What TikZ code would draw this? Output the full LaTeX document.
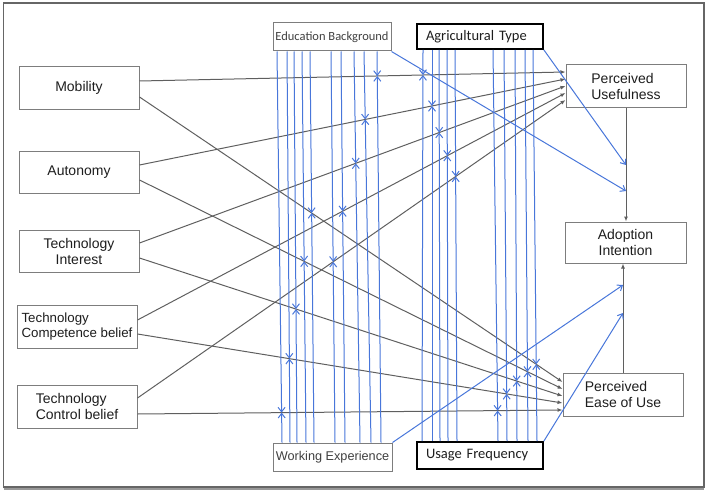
\documentclass[tikz,border=0pt]{standalone}
\usepackage{fontspec}
\setmainfont{Liberation Sans}
\newfontfamily\calib{Carlito}
\usetikzlibrary{arrows.meta,intersections}
\definecolor{mblue}{RGB}{72,118,218}
\definecolor{cgray}{RGB}{95,95,95}
\definecolor{bgray}{RGB}{125,125,125}
\definecolor{tcol}{RGB}{30,30,30}
\begin{document}
\begin{tikzpicture}[x=1pt,y=-1pt,
  box/.style={draw=bgray,line width=1pt,fill=white,minimum width=120pt,minimum height=42pt,
    inner sep=2pt,align=center,text=tcol,font=\fontsize{14}{16}\selectfont},
  mbox/.style={draw=bgray,line width=1pt,fill=white,inner sep=1pt,text=tcol!85!white},
  kbox/.style={draw=black,line width=1.6pt,fill=white,minimum width=126pt,minimum height=25pt,
    text width=108pt,align=left,inner xsep=9pt,inner ysep=1pt,text=tcol,
    font=\calib\fontsize{14.5}{16}\selectfont},
  conn/.style={draw=cgray,line width=1pt,-{Latex[length=5pt,width=4pt]}},
  modar/.style={draw=mblue,line width=1pt,-{Straight Barb[length=4.5pt,width=7pt]}}]
\useasboundingbox (0,0) rectangle (708,492);
% frame
\draw[line width=1.5pt,draw=black!60] (3.5,3) rectangle (704,487);
\draw[line width=2.5pt,draw=black!40] (3.5,489) -- (704,489);
% main nodes
\node[box] (mob) at (79,88) {Mobility};
\node[box] (aut) at (79,172) {Autonomy};
\node[box] (ti) at (79,251) {Technology\\Interest};
\node[box,align=left,minimum height=43pt,font=\fontsize{13.3}{15.5}\selectfont] (comp) at (77,326.5) {Technology\\Competence belief};
\node[box,align=left,minimum height=43pt] (ctrl) at (77,406.5) {Technology\\Control belief};
\node[box,align=left] (pu) at (626,86) {Perceived\\Usefulness};
\node[box,minimum width=121pt,minimum height=41pt] (ai) at (625.5,242.5) {Adoption\\Intention};
\node[box,align=left,minimum height=43pt] (peu) at (623,394.5) {Perceived\\Ease of Use};
% moderator boxes
\node[mbox,minimum width=118pt,minimum height=28pt,font=\calib\fontsize{12.5}{14}\selectfont] (eb) at (332,37) {Education Background};
\node[kbox] (at) at (480,36.5) {Agricultural Type};
\node[mbox,minimum width=119pt,minimum height=28pt,font=\fontsize{12.7}{14}\selectfont] (we) at (332.5,457) {Working Experience};
\node[kbox,minimum height=27pt] (uf) at (480,455.5) {Usage Frequency};
% main connectors
\foreach \n/\s/\e/\ys/\ye in {c1/mob/pu/81/72, c2/mob/peu/97/382, c3/aut/pu/165/79, c4/aut/peu/180/389,
  c5/ti/pu/243/86, c6/ti/peu/258/396, c7/comp/pu/320/93, c8/comp/peu/334/403,
  c9/ctrl/pu/398/100, c10/ctrl/peu/414/410}
  \draw[conn,name path global=\n] (\s.east |- 0,\ys) -- (\e.west |- 0,\ye);
\draw[conn] (pu.south) -- (pu.south |- ai.north);
\draw[conn] (peu.north) -- (peu.north |- ai.south);
% moderation lines: Education Background / Working Experience
\foreach \xt/\xb/\c in {377/381/c1, 364/371/c3, 354/360/c5, 341/345/c7, 331/335/c9,
  310/314/c2, 302/306/c4, 294/297/c6, 287/290/c8, 277/282/c10} {
  \path[name path=vv] (\xt,51) -- (\xb,443);
  \path[name intersections={of=vv and \c, by=X}];
  \draw[modar] (\xt,0 |- eb.south) -- (X);
  \draw[modar] (\xb,0 |- we.north) -- (X);
}
% moderation lines: Agricultural Type / Usage Frequency
\foreach \xt/\xb/\c in {423/422/c1, 432/432/c3, 439/440/c5, 447/448/c7, 455/457/c9,
  533/537/c2, 525/528/c4, 515/517/c6, 504/507/c8, 493/498/c10} {
  \path[name path=vv] (\xt,49) -- (\xb,442);
  \path[name intersections={of=vv and \c, by=X}];
  \draw[modar] (\xt,0 |- at.south) -- (X);
  \draw[modar] (\xb,0 |- uf.north) -- (X);
}
% moderation of the adoption paths
\draw[modar] (eb.south east) -- (pu.south |- 0,191);
\draw[modar] (at.south east) -- (pu.south |- 0,165);
\draw[modar] (we.north east) -- (peu.north |- 0,285);
\draw[modar] (uf.north east) -- (peu.north |- 0,313);
\end{tikzpicture}
\end{document}
